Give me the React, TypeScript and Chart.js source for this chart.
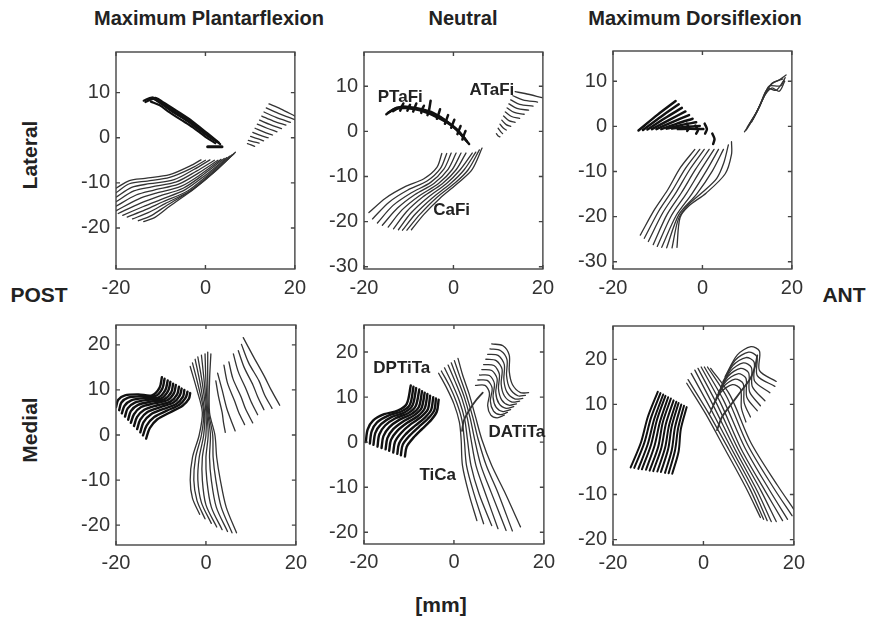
import React, { useEffect, useRef } from "react";
import { Chart, registerables } from "chart.js";
Chart.register(...registerables);

// ---------- tick labels ----------
const X_TICKS = [-20, 0, 20];
const Y_TICKS_P1 = [-20, -10, 0, 10];
const Y_TICKS_P23 = [-30, -20, -10, 0, 10];
const Y_TICKS_MED = [-20, -10, 0, 10, 20];

// ---------- fibre data (x,y pairs in mm) ----------
// Lateral / Maximum Plantarflexion
const P1_PTaFi = [
  [-13.8, 8.2, -12.0, 8.9, -10.4, 8.2, -7.6, 6.3, -4.0, 4.0, -0.6, 1.5, 2.0, -0.5],
  [-13.4, 7.9, -11.6, 8.6, -9.9, 7.6, -7.0, 5.6, -3.6, 3.4, -0.1, 0.8, 2.6, -0.9],
  [-12.9, 8.4, -11.0, 8.8, -9.4, 7.8, -6.5, 6.0, -3.0, 3.7, 0.4, 1.0, 3.0, -1.1],
  [-12.4, 8.7, -10.6, 8.4, -8.8, 6.9, -6.0, 5.1, -2.6, 3.0, 0.9, 0.3, 3.3, -1.4],
  [-11.8, 8.9, -10.0, 8.0, -8.1, 6.4, -5.2, 4.7, -2.0, 2.6, 1.0, 0.2],
  [-11.3, 8.5, -9.5, 7.3, -7.4, 5.8, -4.6, 4.2, -1.5, 2.0, 1.6, -0.2],
  [-12.2, 8.0, -10.2, 7.2, -8.0, 5.6, -5.5, 4.0, -2.8, 2.3, 0.0, 0.2, 2.2, -1.2],
];
const P1_BAR = [[0.5, -2.0, 3.7, -2.0]];
const P1_ATaFi = [
  [14.2, 7.5, 16.8, 6.4, 20.0, 4.8],
  [13.6, 6.6, 16.3, 5.4, 20.0, 4.0],
  [13.1, 5.7, 15.8, 4.5, 19.0, 3.4],
  [12.6, 4.8, 15.2, 3.7, 18.0, 2.8],
  [12.1, 3.9, 14.5, 2.9, 17.0, 2.0],
  [11.6, 3.0, 13.8, 2.1, 16.0, 1.3],
  [11.1, 2.1, 13.0, 1.3, 15.0, 0.6],
  [10.6, 1.2, 12.3, 0.5, 14.0, 0.0],
  [10.1, 0.3, 11.6, -0.2, 13.0, -0.7],
  [9.6, -0.6, 10.8, -0.9, 12.0, -1.2],
  [9.4, -1.3, 10.2, -1.6, 11.0, -1.9],
];
const P1_CaFi = [
  [-20, -11.2, -17, -9.5, -13.5, -9.0, -8, -8.2, -3.5, -6.3, -1, -4.9],
  [-20, -12.2, -17, -10.2, -13, -9.6, -8, -8.8, -3, -6.7, 0, -5.0],
  [-20, -13.2, -16.5, -11.0, -12.5, -10.2, -7, -9.3, -2.5, -7.0, 1, -4.9],
  [-20, -14.2, -16, -11.8, -12, -10.9, -6.5, -9.8, -2, -7.4, 2, -5.0],
  [-20, -15.2, -15.5, -12.7, -11.5, -11.6, -6, -10.3, -1.5, -7.8, 2.8, -5.0],
  [-20, -16.2, -15, -13.6, -11, -12.3, -5.5, -10.8, -1, -8.1, 3.5, -4.8],
  [-19.5, -16.8, -14.5, -14.5, -10.5, -13.0, -5, -11.2, -0.5, -8.2, 4.2, -4.6],
  [-18.5, -17.2, -14, -15.3, -10, -13.7, -4.5, -11.5, 0, -8.3, 4.8, -4.4],
  [-17.5, -17.6, -13.5, -16.0, -9.5, -14.2, -4, -11.8, 0.5, -8.3, 5.4, -4.1],
  [-16.3, -18.0, -12.8, -16.6, -9, -14.6, -3.5, -11.8, 1, -8.2, 6, -3.8],
  [-15, -18.4, -12, -17.2, -8.5, -14.9, -3, -11.6, 1.5, -8.0, 6.4, -3.5],
  [-13.8, -18.6, -11.2, -17.6, -8, -15.2, -2.5, -11.3, 2, -7.6, 6.7, -3.2],
];

// Lateral / Neutral
const P2_PTaFi = [
  [-15, 3.8, -13.2, 5.0, -10.5, 5.2, -7.5, 4.9, -4.5, 3.8, -1.5, 2.2, 1, 0.2, 3, -2.2],
  [-14.5, 4.2, -12.4, 5.3, -9, 5.0, -6, 4.2, -3, 2.8, 0, 1.0, 2, -1.0, 3.5, -2.8],
  [-13.5, 4.5, -11.5, 5.5, -8, 5.1, -5, 4.3, -2, 2.6, 0.5, 0.6, 2.5, -1.6],
  [-11.9, 4.6, -11.6, 5.4, -11.2, 6.2],
  [-10.3, 4.6, -10.0, 5.3, -9.7, 5.9],
  [-9.0, 4.4, -8.7, 5.2, -8.3, 6.2],
  [-7.2, 4.1, -7.0, 4.9, -6.6, 5.7],
  [-5.8, 3.6, -5.5, 4.5, -5.1, 6.8],
  [-3.7, 2.8, -3.4, 3.6, -3.0, 4.9],
  [-1.9, 1.7, -1.6, 2.5, -1.2, 3.6],
  [-0.5, 0.8, -0.2, 1.6, 0.2, 2.6],
  [0.9, -0.6, 1.2, 0.2, 1.6, 1.2],
  [2.0, -1.8, 2.3, -0.9, 2.7, 0.1],
];
const P2_ATaFi = [
  [13.8, 8.8, 16.0, 8.4, 19.8, 7.5],
  [13.3, 7.9, 15.5, 7.0, 18.8, 6.5],
  [12.8, 7.0, 14.8, 6.0, 17.8, 5.6],
  [12.4, 6.1, 14.2, 5.1, 16.8, 4.7],
  [12.0, 5.2, 13.6, 4.2, 15.8, 3.8],
  [11.6, 4.3, 13.0, 3.3, 14.8, 2.9],
  [11.2, 3.4, 12.4, 2.4, 13.8, 2.0],
  [10.8, 2.5, 11.8, 1.5, 12.8, 1.1],
  [10.4, 1.6, 11.2, 0.7, 11.8, 0.3],
  [10.0, 0.7, 10.6, -0.1, 11.0, -0.5],
  [9.6, -0.5, 10.0, -1.0, 10.4, -1.2],
];
const P2_CaFi = [
  [-18.9, -18.0, -15.2, -14.8, -10.9, -12.3, -6.6, -10.5, -3.7, -8.0, -2.6, -4.9],
  [-18.1, -19.4, -14.4, -15.7, -10.2, -13.0, -5.9, -11.0, -2.9, -8.2, -1.5, -4.9],
  [-17.0, -20.3, -13.5, -16.4, -9.4, -13.6, -5.1, -11.3, -2.1, -8.3, -0.5, -4.8],
  [-15.9, -20.8, -12.5, -17.0, -8.6, -14.0, -4.3, -11.5, -1.2, -8.4, 0.6, -4.8],
  [-14.6, -21.2, -11.5, -17.4, -7.7, -14.3, -3.4, -11.6, -0.3, -8.5, 1.7, -4.8],
  [-13.4, -21.6, -10.5, -17.8, -6.8, -14.5, -2.5, -11.6, 0.6, -8.5, 2.8, -4.8],
  [-12.3, -21.8, -9.5, -18.1, -5.8, -14.7, -1.6, -11.6, 1.5, -8.5, 4.2, -4.8],
  [-11.4, -21.9, -8.5, -18.3, -4.8, -14.8, -0.6, -11.5, 2.4, -8.5, 5.0, -4.6],
  [-10.4, -21.9, -7.5, -18.4, -3.9, -14.8, 0.4, -11.4, 3.3, -8.5, 5.8, -4.1],
  [-9.4, -21.8, -6.6, -18.4, -3.0, -14.8, 1.3, -11.2, 4.2, -8.4, 6.4, -3.7],
];

// Lateral / Maximum Dorsiflexion
const P3_PTaFi = [
  [-14.3, -0.9, -10.0, 2.6, -6.0, 5.6],
  [-13.3, -0.8, -9.2, 2.2, -5.3, 4.9],
  [-12.3, -0.7, -8.4, 1.8, -4.6, 4.1],
  [-11.3, -0.6, -7.5, 1.4, -3.8, 3.3],
  [-10.3, -0.6, -6.6, 1.0, -3.0, 2.5],
  [-9.2, -0.6, -5.7, 0.6, -2.2, 1.7],
  [-8.0, -0.5, -4.7, 0.3, -1.4, 0.9],
  [-6.8, -0.5, -3.7, -0.1, -0.6, 0.1],
  [-5.5, -0.6, -2.7, -0.5, 0.2, -0.6],
  [-3.5, 0.6, -3.0, -0.4, -3.4, -1.0],
  [-1.6, 0.2, -1.0, -0.8, -1.4, -1.6],
  [0.5, 0.6, 1.0, -0.6, 0.6, -1.6],
  [2.2, -1.6, 2.7, -2.8, 2.4, -3.9],
];
const P3_ATaFi = [
  [9.4, -1.2, 11.5, 2.0, 13.0, 5.0, 14.0, 7.5, 15.5, 9.5, 17.0, 10.2, 18.7, 11.4],
  [9.8, -0.8, 11.8, 2.5, 13.2, 5.5, 14.3, 8.0, 15.0, 9.0, 17.5, 9.0, 18.5, 10.8],
  [10.0, -0.2, 12.0, 3.0, 13.5, 6.0, 14.8, 8.3, 16.5, 8.0, 18.2, 10.2],
  [10.5, 0.5, 12.3, 3.5, 13.7, 6.5, 15.0, 8.8, 16.0, 9.8, 18.0, 10.5],
  [11.0, 1.0, 12.6, 4.0, 14.0, 7.0, 15.5, 8.5, 17.2, 7.8, 18.4, 10.0],
];
const P3_CaFi = [
  [-1.7, -5.1, -4.9, -9.1, -7.8, -14.1, -10.7, -18.4, -13.9, -24.1],
  [-0.6, -5.1, -3.8, -9.3, -6.8, -14.3, -9.8, -18.8, -13.0, -24.8],
  [0.4, -5.1, -2.8, -9.5, -5.8, -14.5, -8.9, -19.2, -12.1, -25.5],
  [1.5, -5.1, -1.6, -9.6, -4.7, -14.7, -7.9, -19.5, -11.0, -26.2],
  [2.6, -5.1, -0.4, -9.7, -3.6, -14.9, -6.9, -19.7, -10.1, -26.6],
  [3.6, -5.1, 0.9, -9.8, -2.4, -15.0, -5.9, -19.8, -9.1, -26.8],
  [4.7, -5.1, 2.2, -9.9, -1.3, -15.0, -5.3, -19.6, -8.0, -26.9],
  [5.8, -4.1, 4.8, -8.0, 3.2, -11.5, 0.0, -14.6, -3.4, -17.6, -5.4, -20.6, -6.8, -26.9],
  [6.5, -3.4, 6.5, -6.2, 5.1, -10.5, 0.8, -14.8, -3.0, -17.6, -5.0, -20.2, -5.7, -26.8],
];

// Medial / Maximum Plantarflexion
const P4_DPTiTa = [
  [-20, 6.2, -19.5, 7.8, -18, 8.8, -15, 9.0, -12, 8.8, -10.3, 10.5, -9.8, 12.8],
  [-19.3, 5.5, -18.8, 7.2, -17.3, 8.3, -14.3, 8.6, -11.3, 8.6, -9.7, 10.3, -9.2, 12.5],
  [-18.7, 4.8, -18.1, 6.5, -16.6, 7.7, -13.6, 8.2, -10.6, 8.3, -9.0, 10.0, -8.5, 12.1],
  [-18.0, 4.1, -17.4, 5.9, -15.8, 7.2, -12.9, 7.8, -10.0, 8.1, -8.4, 9.8, -7.9, 11.8],
  [-17.3, 3.4, -16.7, 5.3, -15.1, 6.7, -12.2, 7.4, -9.3, 7.9, -7.7, 9.5, -7.3, 11.4],
  [-16.7, 2.7, -16.0, 4.6, -14.4, 6.2, -11.5, 7.0, -8.6, 7.7, -7.1, 9.3, -6.7, 11.1],
  [-16.0, 2.0, -15.3, 4.0, -13.7, 5.6, -10.8, 6.6, -7.9, 7.4, -6.4, 9.0, -6.0, 10.7],
  [-15.3, 1.3, -14.6, 3.4, -13.0, 5.1, -10.1, 6.2, -7.2, 7.2, -5.8, 8.8, -5.4, 10.3],
  [-14.6, 0.6, -13.9, 2.8, -12.2, 4.6, -9.4, 5.8, -6.6, 6.9, -5.1, 8.5, -4.8, 10.0],
  [-14.0, -0.1, -13.2, 2.1, -11.5, 4.0, -8.7, 5.4, -5.9, 6.7, -4.5, 8.3, -4.1, 9.6],
  [-13.3, -0.8, -12.5, 1.5, -10.8, 3.5, -8.0, 5.0, -5.2, 6.5, -3.8, 8.0, -3.5, 9.3],
];
const P4_TiCa = [
  [-3.5, 15.2, -2.0, 10.0, -0.8, 5.0, -1.5, 0.0, -3.0, -5.0, -3.5, -10.0, -3.0, -14.0, -1.4, -17.6],
  [-3.0, 16.0, -1.6, 10.5, -0.5, 5.0, -1.0, 0.0, -2.3, -5.0, -2.7, -10.0, -2.0, -14.5, -0.2, -18.6],
  [-2.4, 16.8, -1.2, 11.0, -0.3, 5.0, -0.5, 0.0, -1.5, -5.0, -1.8, -10.0, -1.0, -15.0, 1.2, -19.6],
  [-1.8, 17.3, -0.8, 11.5, 0.0, 5.0, 0.0, 0.0, -0.8, -5.0, -0.8, -10.0, 0.0, -15.5, 2.4, -20.4],
  [-1.0, 17.7, -0.4, 12.0, 0.2, 5.0, 0.5, 0.0, 0.0, -5.0, 0.2, -10.0, 1.2, -16.0, 3.6, -21.0],
  [-0.2, 18.0, 0.0, 12.0, 0.4, 5.0, 1.0, 0.0, 0.8, -5.0, 1.2, -10.0, 2.3, -16.0, 4.8, -21.4],
  [0.4, 18.4, 0.4, 12.0, 0.6, 5.0, 1.5, 0.0, 1.6, -5.0, 2.2, -10.0, 3.4, -16.0, 5.8, -21.7],
  [1.1, 18.0, 0.8, 12.0, 0.8, 5.0, 2.0, 0.0, 2.4, -5.0, 3.2, -10.0, 4.5, -16.0, 6.8, -21.7],
];
const P4_DATiTa = [
  [2.2, 12.0, 2.8, 8.5, 3.6, 5.0, 3.9, 2.8, 4.3, 0.6],
  [2.6, 13.7, 3.6, 10.0, 4.6, 6.0, 5.5, 3.5, 6.5, 0.9],
  [4.0, 15.5, 4.8, 11.5, 6.4, 7.5, 7.3, 5.0, 8.6, 2.3],
  [5.1, 16.2, 6.0, 12.5, 7.8, 8.5, 8.8, 5.8, 10.4, 2.7],
  [6.1, 18.0, 7.2, 14.0, 9.0, 10.0, 10.0, 7.5, 11.5, 4.5],
  [7.2, 18.7, 8.5, 15.0, 10.5, 11.0, 11.5, 8.5, 12.9, 5.6],
  [7.9, 20.1, 9.5, 16.0, 11.8, 12.0, 13.0, 9.0, 14.7, 5.9],
  [8.3, 21.6, 10.5, 17.5, 13.0, 13.0, 14.5, 10.0, 16.4, 6.6],
];

// Medial / Neutral
const P5_DPTiTa = [
  [-19.6, 0.0, -19.2, 2.8, -18.0, 4.8, -15.5, 6.2, -12.5, 7.0, -10.5, 8.5, -9.6, 12.6],
  [-18.7, -0.3, -18.3, 2.4, -17.1, 4.4, -14.6, 5.9, -11.7, 6.8, -9.8, 8.3, -9.0, 12.3],
  [-17.9, -0.6, -17.5, 2.0, -16.2, 4.0, -13.8, 5.6, -11.0, 6.6, -9.2, 8.2, -8.4, 12.0],
  [-17.0, -1.0, -16.6, 1.7, -15.3, 3.7, -13.0, 5.3, -10.2, 6.4, -8.5, 8.0, -7.7, 11.7],
  [-16.1, -1.3, -15.7, 1.3, -14.4, 3.3, -12.1, 5.0, -9.5, 6.2, -7.8, 7.8, -7.1, 11.3],
  [-15.2, -1.6, -14.8, 0.9, -13.5, 2.9, -11.3, 4.6, -8.8, 6.0, -7.2, 7.6, -6.5, 11.0],
  [-14.4, -1.9, -14.0, 0.5, -12.6, 2.5, -10.4, 4.3, -8.0, 5.8, -6.5, 7.5, -5.9, 10.7],
  [-13.5, -2.3, -13.1, 0.1, -11.7, 2.1, -9.6, 4.0, -7.3, 5.6, -5.8, 7.3, -5.3, 10.3],
  [-12.6, -2.6, -12.2, -0.3, -10.8, 1.7, -8.7, 3.6, -6.5, 5.4, -5.1, 7.1, -4.6, 10.0],
  [-11.8, -2.9, -11.4, -0.6, -9.9, 1.4, -7.9, 3.3, -5.8, 5.2, -4.4, 7.0, -4.0, 9.7],
  [-10.9, -3.2, -10.5, -1.0, -9.0, 1.0, -7.0, 3.0, -5.0, 5.0, -3.8, 6.8, -3.4, 9.4],
];
const P5_TiCa = [
  [-3.4, 15.3, -1.6, 12.0, 0.0, 8.5, 1.2, 4.5, 1.6, 0.6, 1.9, -5.2, 3.4, -11.7, 5.1, -17.4],
  [-2.8, 15.8, -1.0, 12.5, 0.6, 8.8, 1.8, 4.8, 2.3, 0.6, 2.8, -5.2, 4.5, -11.6, 6.6, -18.1],
  [-2.1, 16.5, -0.4, 13.0, 1.2, 9.2, 2.4, 5.0, 3.0, 0.6, 3.8, -5.2, 5.6, -11.5, 8.4, -18.5],
  [-1.3, 17.1, 0.2, 13.6, 1.8, 9.6, 3.0, 5.2, 3.8, 0.6, 4.9, -5.2, 7.0, -11.4, 9.8, -19.2],
  [-0.6, 17.6, 0.7, 14.2, 2.3, 10.0, 3.6, 5.4, 4.6, 0.6, 6.0, -5.2, 8.3, -11.2, 11.6, -19.6],
  [0.1, 18.1, 1.3, 14.6, 2.8, 10.3, 4.2, 5.5, 5.4, 0.6, 7.2, -5.2, 9.7, -11.0, 13.0, -19.7],
  [0.9, 18.6, 1.9, 15.0, 3.4, 10.6, 4.8, 5.6, 6.2, 0.6, 8.4, -5.2, 11.2, -10.9, 14.8, -18.8],
];
const P5_DATiTa = [
  [8.4, 21.8, 10.9, 21.4, 12.3, 19.3, 12.3, 15.7, 13.0, 12.8, 14.8, 11.0, 16.6, 11.0],
  [8.0, 20.7, 10.4, 20.3, 11.8, 18.3, 11.7, 14.8, 12.4, 12.0, 14.2, 10.3, 15.9, 10.4],
  [7.5, 19.5, 9.9, 19.2, 11.2, 17.2, 11.1, 13.8, 11.8, 11.1, 13.5, 9.6, 15.3, 9.7],
  [7.1, 18.4, 9.4, 18.1, 10.7, 16.2, 10.5, 12.9, 11.2, 10.3, 12.9, 8.9, 14.6, 9.1],
  [6.6, 17.2, 8.9, 17.0, 10.1, 15.1, 9.9, 11.9, 10.6, 9.4, 12.2, 8.2, 13.9, 8.5],
  [6.2, 16.1, 8.4, 15.9, 9.6, 14.1, 9.3, 11.0, 10.0, 8.6, 11.6, 7.5, 13.3, 7.9],
  [5.7, 14.9, 7.9, 14.8, 9.0, 13.0, 8.7, 10.0, 9.4, 7.7, 10.9, 6.8, 12.6, 7.2],
  [5.3, 13.8, 7.4, 13.7, 8.5, 12.0, 8.1, 9.1, 8.8, 6.9, 10.3, 6.1, 11.9, 6.6],
  [4.8, 12.6, 6.9, 12.6, 7.9, 10.9, 7.5, 8.1, 8.2, 6.0, 9.6, 5.4, 11.2, 6.0],
];
const P5_SPINE = [[1.8, 2.5, 2.2, 4.8, 3.6, 7.4, 5.0, 9.4, 6.4, 11.0]];

// Medial / Maximum Dorsiflexion
const P6_DPTiTa = [
  [-16.1, -4.0, -13.8, 1.6, -12.3, 7.2, -10.1, 12.8],
  [-15.3, -4.1, -13.1, 1.4, -11.6, 7.0, -9.5, 12.5],
  [-14.4, -4.3, -12.3, 1.2, -10.9, 6.7, -8.9, 12.2],
  [-13.6, -4.4, -11.6, 1.0, -10.3, 6.5, -8.4, 11.9],
  [-12.7, -4.5, -10.8, 0.9, -9.6, 6.2, -7.8, 11.6],
  [-11.9, -4.7, -10.0, 0.6, -9.0, 6.0, -7.2, 11.3],
  [-11.1, -4.8, -9.3, 0.4, -8.3, 5.7, -6.6, 10.9],
  [-10.2, -4.9, -8.5, 0.3, -7.6, 5.4, -6.0, 10.6],
  [-9.4, -5.0, -7.8, 0.1, -7.0, 5.2, -5.5, 10.3],
  [-8.5, -5.2, -7.0, -0.1, -6.3, 4.9, -4.9, 10.0],
  [-7.7, -5.3, -6.3, -0.3, -5.6, 4.7, -4.3, 9.7],
  [-6.9, -5.4, -5.5, -0.5, -5.0, 4.5, -3.7, 9.4],
];
const P6_TiCa = [
  [-3.7, 14.7, 0.5, 7.9, 4.8, 0.0, 9.4, -8.5, 12.6, -15.1],
  [-3.4, 15.5, 1.0, 8.3, 5.6, 0.0, 10.3, -8.8, 13.3, -15.5],
  [-2.7, 16.9, 1.6, 9.0, 6.3, 0.0, 11.1, -9.0, 14.1, -15.8],
  [-1.9, 17.6, 2.3, 9.5, 7.0, 0.0, 11.9, -9.2, 15.0, -16.0],
  [-1.2, 18.0, 3.0, 10.0, 7.7, 0.0, 12.8, -9.3, 16.1, -16.0],
  [-0.5, 18.3, 3.7, 10.5, 8.4, 0.0, 13.7, -9.3, 17.5, -15.8],
  [0.2, 18.3, 4.4, 11.0, 9.1, 0.5, 14.6, -9.0, 18.6, -15.5],
  [0.9, 18.3, 5.2, 11.6, 9.8, 1.0, 15.5, -8.5, 19.6, -14.7],
  [1.6, 18.0, 5.9, 12.0, 10.5, 1.5, 16.4, -8.0, 20.0, -13.3],
];
const P6_DATiTa = [
  [4.8, 16.2, 7.5, 21.0, 10.5, 22.8, 12.4, 21.8, 12.4, 17.5, 16.1, 15.1],
  [4.3, 15.0, 7.0, 19.8, 10.0, 21.6, 11.8, 20.6, 11.9, 16.4, 15.8, 14.0],
  [3.8, 13.8, 6.5, 18.6, 9.4, 20.4, 11.2, 19.4, 11.3, 15.2, 14.7, 12.6],
  [3.3, 12.6, 6.0, 17.4, 8.8, 19.2, 10.6, 18.2, 10.8, 14.0, 13.6, 10.8],
  [2.8, 11.4, 5.4, 16.2, 8.2, 18.0, 10.0, 17.0, 10.2, 12.8, 12.6, 9.7],
  [2.3, 10.2, 4.9, 15.0, 7.6, 16.8, 9.4, 15.8, 9.6, 11.6, 11.9, 8.6],
  [1.8, 9.0, 4.3, 13.8, 7.0, 15.6, 8.8, 14.6, 9.0, 10.4, 10.4, 7.2],
  [1.3, 7.8, 3.8, 12.6, 6.4, 14.4, 8.2, 13.4, 8.4, 9.2, 9.4, 6.1],
];
const P6_SPINE = [[3.0, 4.3, 4.1, 7.2, 6.2, 10.1, 8.3, 12.9, 10.4, 15.8, 11.5, 18.7, 11.9, 20.9]];

// in-plot labels (text, x, y in mm)
const P2_LABELS = [
  { text: "PTaFi", x: -11.9, y: 7.6 },
  { text: "ATaFi", x: 8.6, y: 9.2 },
  { text: "CaFi", x: -0.4, y: -17.6 },
];
const P5_LABELS = [
  { text: "DPTiTa", x: -11.6, y: 16.4 },
  { text: "DATiTa", x: 14.0, y: 2.2 },
  { text: "TiCa", x: -3.6, y: -7.4 },
];

type Bundle = { fibers: number[][]; bold?: boolean; width?: number };
type PanelDef = {
  left: number; top: number; width: number; height: number;
  yMin: number; yMax: number; yTicks: number[];
  bundles: Bundle[]; labels: { text: string; x: number; y: number }[];
  xPad: number;
};

const FONT = "'Liberation Sans', Arial, Helvetica, sans-serif";

const PANELS: PanelDef[] = [
  { left: 116, top: 44, width: 187, height: 225, yMin: -29.1, yMax: 19.0, yTicks: Y_TICKS_P1, xPad: 7,
    bundles: [{ fibers: P1_PTaFi, bold: true }, { fibers: P1_BAR, bold: true, width: 3 }, { fibers: P1_ATaFi }, { fibers: P1_CaFi }], labels: [] },
  { left: 364, top: 44, width: 187, height: 225, yMin: -30.5, yMax: 17.6, yTicks: Y_TICKS_P23, xPad: 7,
    bundles: [{ fibers: P2_PTaFi, bold: true, width: 2.5 }, { fibers: P2_ATaFi }, { fibers: P2_CaFi }], labels: P2_LABELS },
  { left: 613, top: 43, width: 187, height: 226, yMin: -31.6, yMax: 16.7, yTicks: Y_TICKS_P23, xPad: 7,
    bundles: [{ fibers: P3_PTaFi, bold: true, width: 2.5 }, { fibers: P3_ATaFi }, { fibers: P3_CaFi }], labels: [] },
  { left: 116, top: 317, width: 187, height: 228, yMin: -24.4, yMax: 24.4, yTicks: Y_TICKS_MED, xPad: 6,
    bundles: [{ fibers: P4_DPTiTa, bold: true, width: 2.4 }, { fibers: P4_TiCa }, { fibers: P4_DATiTa }], labels: [] },
  { left: 364, top: 317, width: 187, height: 227, yMin: -22.6, yMax: 26.0, yTicks: Y_TICKS_MED, xPad: 6,
    bundles: [{ fibers: P5_DPTiTa, bold: true, width: 2.4 }, { fibers: P5_TiCa }, { fibers: P5_DATiTa }, { fibers: P5_SPINE, width: 1.8 }], labels: P5_LABELS },
  { left: 613, top: 318, width: 188, height: 227, yMin: -21.2, yMax: 27.4, yTicks: Y_TICKS_MED, xPad: 6,
    bundles: [{ fibers: P6_DPTiTa, bold: true, width: 2.0 }, { fibers: P6_TiCa }, { fibers: P6_DATiTa }, { fibers: P6_SPINE, width: 1.8 }], labels: [] },
];

const PAD_L = 50, PAD_T = 10, PAD_R = 10, PAD_B = 35;

function PanelChart({ p }: { p: PanelDef }) {
  const ref = useRef<HTMLCanvasElement>(null);
  useEffect(() => {
    if (!ref.current) return;
    const datasets: any[] = [];
    p.bundles.forEach((b) => {
      b.fibers.forEach((f) => {
        const pts: { x: number; y: number }[] = [];
        for (let i = 0; i + 1 < f.length; i += 2) pts.push({ x: f[i], y: f[i + 1] });
        datasets.push({
          data: pts,
          showLine: true,
          pointRadius: 0,
          borderColor: b.bold ? "#111111" : "#333333",
          borderWidth: b.width ?? (b.bold ? 2.2 : 1.3),
          tension: 0.3,
          fill: false,
          borderCapStyle: "round",
          borderJoinStyle: "round",
        });
      });
    });
    const boxPlugin = {
      id: "boxTicks",
      afterDraw(chart: any) {
        const { ctx, chartArea: a, scales } = chart;
        ctx.save();
        ctx.strokeStyle = "#444";
        ctx.lineWidth = 1.4;
        ctx.strokeRect(a.left, a.top, a.right - a.left, a.bottom - a.top);
        const tl = 4;
        ctx.beginPath();
        X_TICKS.forEach((v) => {
          const px = scales.x.getPixelForValue(v);
          ctx.moveTo(px, a.bottom); ctx.lineTo(px, a.bottom - tl);
          ctx.moveTo(px, a.top); ctx.lineTo(px, a.top + tl);
        });
        p.yTicks.forEach((v) => {
          const py = scales.y.getPixelForValue(v);
          ctx.moveTo(a.left, py); ctx.lineTo(a.left + tl, py);
          ctx.moveTo(a.right, py); ctx.lineTo(a.right - tl, py);
        });
        ctx.stroke();
        ctx.fillStyle = "#222";
        ctx.font = `bold 17px ${FONT}`;
        ctx.textAlign = "center";
        ctx.textBaseline = "middle";
        p.labels.forEach((l) => {
          ctx.fillText(l.text, scales.x.getPixelForValue(l.x), scales.y.getPixelForValue(l.y));
        });
        ctx.restore();
      },
    };
    const chart = new Chart(ref.current, {
      type: "scatter",
      data: { datasets },
      options: {
        animation: false,
        responsive: false,
        maintainAspectRatio: false,
        devicePixelRatio: 1,
        layout: { padding: { left: 0, top: PAD_T, right: PAD_R, bottom: 0 } },
        plugins: { legend: { display: false }, tooltip: { enabled: false }, title: { display: false } },
        scales: {
          x: {
            type: "linear", min: -20, max: 20,
            grid: { display: false, drawTicks: false },
            border: { display: false },
            afterBuildTicks: (s: any) => { s.ticks = X_TICKS.map((v) => ({ value: v })); },
            afterFit: (s: any) => { s.height = PAD_B; },
            ticks: { font: { family: FONT, size: 20 }, color: "#333", padding: p.xPad, maxRotation: 0, autoSkip: false },
          },
          y: {
            type: "linear", min: p.yMin, max: p.yMax,
            grid: { display: false, drawTicks: false },
            border: { display: false },
            afterBuildTicks: (s: any) => { s.ticks = p.yTicks.map((v) => ({ value: v })); },
            afterFit: (s: any) => { s.width = PAD_L; },
            ticks: { font: { family: FONT, size: 20 }, color: "#333", padding: 6, autoSkip: false },
          },
        },
      } as any,
      plugins: [boxPlugin],
    });
    return () => chart.destroy();
  }, [p]);
  const w = p.width + PAD_L + PAD_R;
  const h = p.height + PAD_T + PAD_B;
  return (
    <div style={{ position: "absolute", left: p.left - PAD_L, top: p.top - PAD_T, width: w, height: h }}>
      <canvas ref={ref} width={w} height={h} style={{ display: "block", width: w, height: h }} />
    </div>
  );
}

const txt: React.CSSProperties = {
  position: "absolute",
  fontFamily: FONT,
  fontWeight: "bold",
  fontSize: 20,
  color: "#222",
  whiteSpace: "nowrap",
  lineHeight: "24px",
  transform: "translate(-50%, -50%)",
};
const big: React.CSSProperties = { ...txt, fontSize: 21 };

export default function App() {
  return (
    <div style={{ position: "absolute", left: 0, top: 0, width: 878, height: 621, background: "#fff", overflow: "hidden" }}>
      <div style={{ ...txt, left: 209, top: 18 }}>Maximum Plantarflexion</div>
      <div style={{ ...txt, left: 463, top: 18 }}>Neutral</div>
      <div style={{ ...txt, left: 695, top: 18 }}>Maximum Dorsiflexion</div>
      <div style={{ ...big, left: 30, top: 155, transform: "translate(-50%, -50%) rotate(-90deg)" }}>Lateral</div>
      <div style={{ ...big, left: 30, top: 430, transform: "translate(-50%, -50%) rotate(-90deg)" }}>Medial</div>
      <div style={{ ...big, left: 39, top: 295 }}>POST</div>
      <div style={{ ...big, left: 844, top: 295 }}>ANT</div>
      <div style={{ ...big, left: 441, top: 605 }}>[mm]</div>
      {PANELS.map((p, i) => (
        <PanelChart key={i} p={p} />
      ))}
    </div>
  );
}
